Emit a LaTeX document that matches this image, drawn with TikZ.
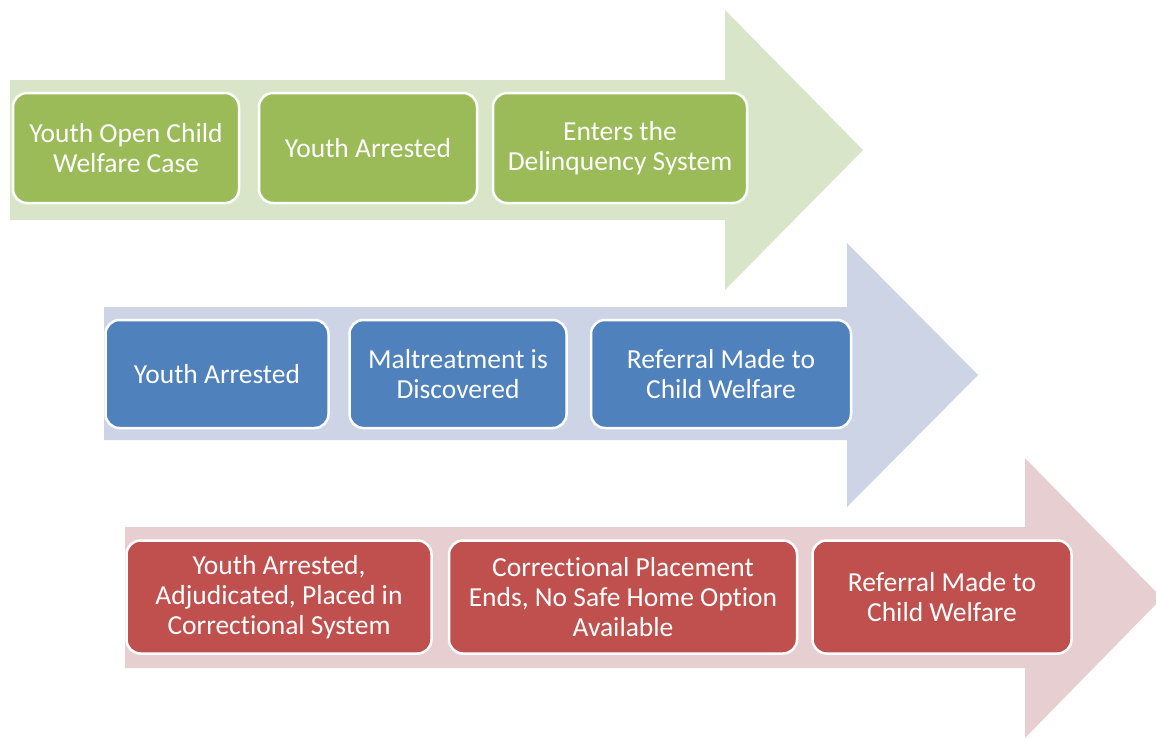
\documentclass[tikz,border=0pt]{standalone}
\usepackage{fontspec}
\setmainfont{Carlito}[Ligatures=NoCommon]
\usetikzlibrary{positioning}
\definecolor{GreenBox}{RGB}{155,187,89}
\definecolor{GreenArrow}{RGB}{217,229,200}
\definecolor{BlueBox}{RGB}{79,129,189}
\definecolor{BlueArrow}{RGB}{205,212,230}
\definecolor{RedBox}{RGB}{192,80,77}
\definecolor{RedArrow}{RGB}{231,206,208}

\tikzset{
    casebox/.style={
        rounded corners=14pt,
        draw=white,
        line width=2.5pt,
        text=white,
        align=center,
        inner sep=0pt,
        font=\fontsize{27.5}{30}\selectfont
    }
}

\begin{document}
\begin{tikzpicture}[x=1pt, y=-1pt]
        \useasboundingbox (0,0) rectangle (1156,739);
        \clip (0,0) rectangle (1156,739);

        % big arrows behind the boxes
        \fill[GreenArrow] (10,80) -- (725,80) -- (725,10) -- (863,150) -- (725,290) -- (725,220) -- (10,220) -- cycle;
        \fill[BlueArrow] (104,307) -- (847,307) -- (847,243) -- (978,375) -- (847,507) -- (847,440) -- (104,440) -- cycle;
        \fill[RedArrow] (125,527) -- (1025,527) -- (1025,458) -- (1162,598) -- (1025,738) -- (1025,668) -- (125,668) -- cycle;

        % first row
        \node[casebox, fill=GreenBox, minimum width=226pt, minimum height=110pt] (openCase) at (126,148) {Youth Open Child\\Welfare Case};
        \node[casebox, fill=GreenBox, minimum width=218pt, minimum height=110pt] (arrestA) at (368,148) {Youth Arrested};
        \node[casebox, fill=GreenBox, minimum width=254pt, minimum height=110pt] (delinq) at (620,148) {Enters the\\Delinquency System};

        % second row
        \node[casebox, fill=BlueBox, minimum width=223pt, minimum height=108pt] (arrestB) at (217,374) {Youth Arrested};
        \node[casebox, fill=BlueBox, minimum width=217pt, minimum height=108pt] (maltreat) at (458,374) {Maltreatment is\\Discovered};
        \node[casebox, fill=BlueBox, minimum width=260pt, minimum height=108pt] (referB) at (721,374) {Referral Made to\\Child Welfare};

        % third row
        \node[casebox, fill=RedBox, minimum width=305pt, minimum height=113pt] (placed) at (279,597) {Youth Arrested,\\Adjudicated, Placed in\\Correctional System};
        \node[casebox, fill=RedBox, minimum width=348pt, minimum height=113pt] (ends) at (623,597) {Correctional Placement\\Ends, No Safe Home Option\\Available};
        \node[casebox, fill=RedBox, minimum width=259pt, minimum height=113pt] (referC) at (942,597) {Referral Made to\\Child Welfare};
    \end{tikzpicture}
\end{document}
